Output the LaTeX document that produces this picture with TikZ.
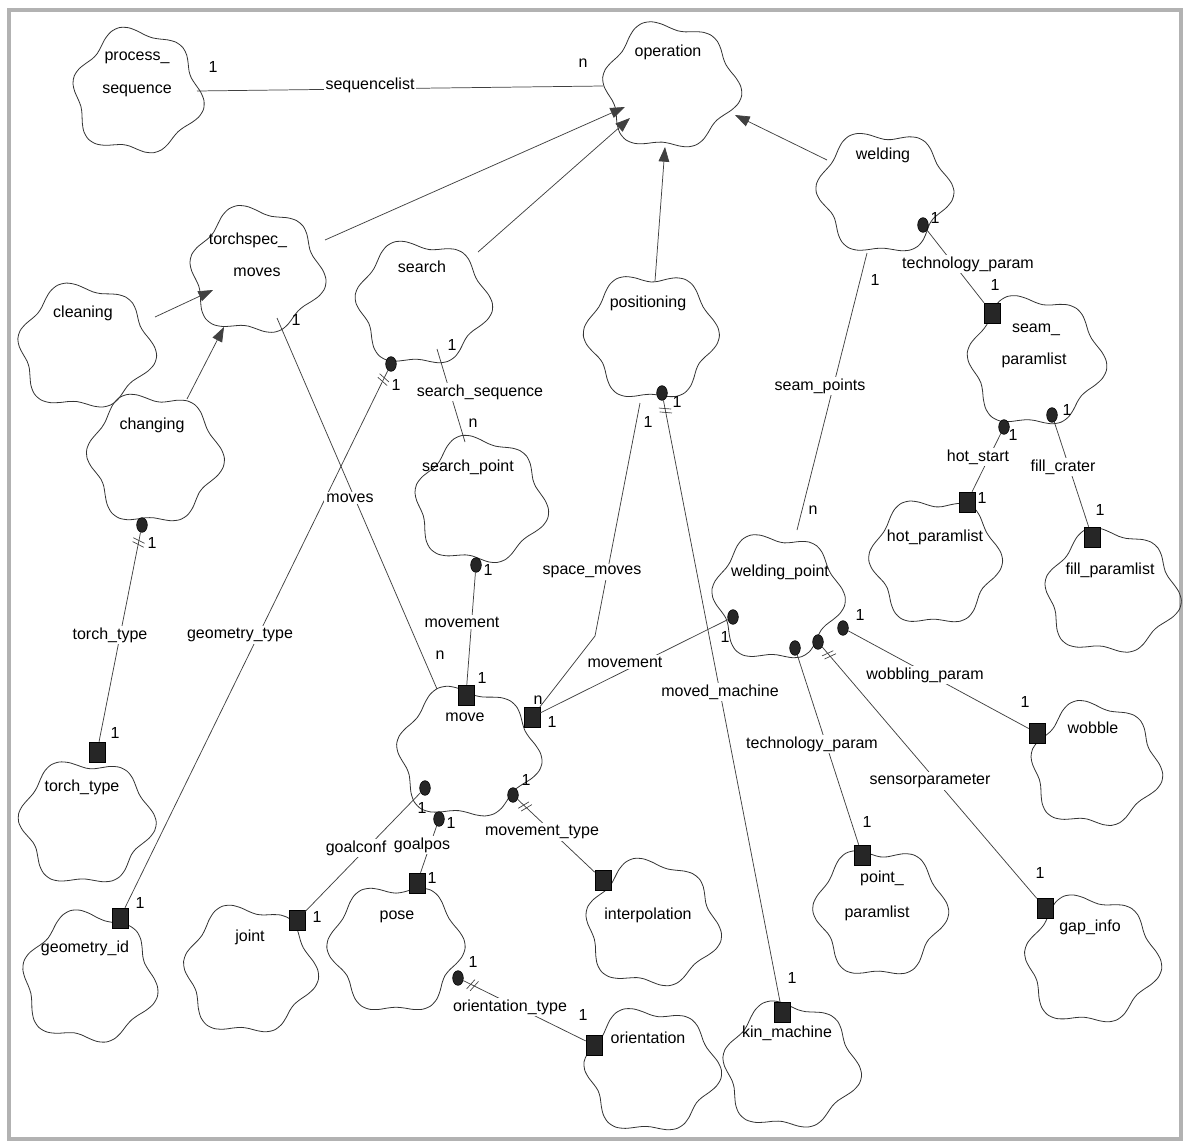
\documentclass[tikz,border=0pt]{standalone}
\usepackage{fontspec}
\setmainfont{Liberation Sans}
\usetikzlibrary{arrows.meta,calc,decorations.markings,shapes.geometric}

\newcommand\blobcloud[5]{%
  \draw[cloudline] plot[smooth cycle, samples=48, domain=0:352.5]
   ({#1+#3*(1+0.08*sin(6*\x+#5)+0.035*sin(3*\x+2*#5))*cos(\x)},
    {#2+#4*(1+0.08*sin(6*\x+#5)+0.035*sin(3*\x+2*#5))*sin(\x)});}

\begin{document}
\begin{tikzpicture}[x=0.75pt,y=-0.75pt,
  font=\fontsize{12}{14}\selectfont,
  cloudline/.style={draw=black!80, line width=0.6pt},
  conn/.style={draw=black!75, line width=0.55pt},
  inh/.style={conn, -{Triangle[length=11pt,width=8pt]}},
  sq/.style={rectangle, fill=black!85, draw=black, minimum width=12pt, minimum height=15pt, inner sep=0pt},
  dt/.style={ellipse, fill=black!85, draw=black, minimum width=8pt, minimum height=11pt, inner sep=0pt},
  lbl/.style={fill=white, inner sep=1.5pt},
  card/.style={inner sep=0pt},
  txt/.style={inner sep=0pt},
  dbar/.style={postaction={decorate, decoration={markings,
     mark=at position 6pt with {\draw[black!75, line width=0.5pt] (-1pt,-4.5pt) -- (1.5pt,4.5pt) (2pt,-4.5pt) -- (4.5pt,4.5pt);}}}}
]
\useasboundingbox (0,0) rectangle (1188,1142);
\fill[white] (0,0) rectangle (1188,1142);
\draw[gray!60, line width=3pt] (9,10) rectangle (1181,1139);

% ---------- clouds ----------
\blobcloud{137}{92}{62}{60}{10}
\blobcloud{670}{86}{65}{61}{40}
\blobcloud{884}{192}{64}{59}{75}
\blobcloud{256}{271}{64}{61}{20}
\blobcloud{422}{303}{64}{60}{55}
\blobcloud{651}{336}{63}{61}{85}
\blobcloud{85}{347}{65}{60}{30}
\blobcloud{154}{458}{64}{63}{65}
\blobcloud{480}{501}{63}{61}{15}
\blobcloud{1035}{361}{65}{63}{50}
\blobcloud{935}{561}{62}{61}{80}
\blobcloud{1111}{592}{64}{60}{25}
\blobcloud{777}{597}{62}{61}{60}
\blobcloud{467}{753}{68}{63}{35}
\blobcloud{86}{822}{64}{60}{70}
\blobcloud{89}{978}{64}{63}{5}
\blobcloud{249}{970}{63}{62}{45}
\blobcloud{396}{948}{64}{62}{90}
\blobcloud{652}{924}{64}{61}{12}
\blobcloud{651}{1070}{64}{60}{58}
\blobcloud{790}{1066}{65}{61}{28}
\blobcloud{880}{912}{63}{62}{78}
\blobcloud{1091}{960}{64}{62}{42}
\blobcloud{1095}{765}{62}{60}{18}

% ---------- cloud names ----------
\node[txt] (t-ps1) at (137,58) {process\_};
\node[txt] (t-ps2) at (137,91) {sequence};
\node[txt] (t-op) at (668,52) {operation};
\node[txt] (t-wd) at (883,155) {welding};
\node[txt] (t-tsm1) at (248,240) {torchspec\_};
\node[txt] (t-tsm2) at (257,272) {moves};
\node[txt] (t-se) at (422,267) {search};
\node[txt] (t-pos) at (648,303) {positioning};
\node[txt] (t-cl) at (83,313) {cleaning};
\node[txt] (t-ch) at (152,425) {changing};
\node[txt] (t-spt) at (468,467) {search\_point};
\node[txt] (t-spl1) at (1036,330) {seam\_};
\node[txt] (t-spl2) at (1034,360) {paramlist};
\node[txt] (t-hpl) at (935,537) {hot\_paramlist};
\node[txt] (t-fpl) at (1110,570) {fill\_paramlist};
\node[txt] (t-wp) at (780,572) {welding\_point};
\node[txt] (t-mv) at (465,717) {move};
\node[txt] (t-tt) at (82,787) {torch\_type};
\node[txt] (t-gi) at (85,948) {geometry\_id};
\node[txt] (t-jt) at (250,937) {joint};
\node[txt] (t-po) at (397,917) {pose};
\node[txt] (t-ip) at (648,915) {interpolation};
\node[txt] (t-or) at (648,1038) {orientation};
\node[txt] (t-km) at (787,1033) {kin\_machine};
\node[txt] (t-ppl1) at (882,878) {point\_};
\node[txt] (t-ppl2) at (877,913) {paramlist};
\node[txt] (t-gap) at (1090,927) {gap\_info};
\node[txt] (t-wb) at (1093,728) {wobble};

% ---------- adornments: squares ----------
\node[sq] (s-tt) at (97,752) {};
\node[sq] (s-gi) at (120,918) {};
\node[sq] (s-jt) at (297,920) {};
\node[sq] (s-po) at (417,883) {};
\node[sq] (s-ip) at (603,880) {};
\node[sq] (s-or) at (594,1045) {};
\node[sq] (s-km) at (782,1012) {};
\node[sq] (s-pp) at (862,855) {};
\node[sq] (s-gp) at (1045,908) {};
\node[sq] (s-wb) at (1037,733) {};
\node[sq] (s-hp) at (967,502) {};
\node[sq] (s-fp) at (1092,537) {};
\node[sq] (s-sp) at (992,313) {};
\node[sq] (s-mv1) at (466,695) {};
\node[sq] (s-mv2) at (532,717) {};

% ---------- adornments: dots ----------
\node[dt] (d-ch) at (142,525) {};
\node[dt] (d-se) at (391,364) {};
\node[dt] (d-spt) at (476,565) {};
\node[dt] (d-pos) at (662,393) {};
\node[dt] (d-wd) at (923,225) {};
\node[dt] (d-hs) at (1004,427) {};
\node[dt] (d-fc) at (1052,415) {};
\node[dt] (d-wp1) at (733,617) {};
\node[dt] (d-wp2) at (795,648) {};
\node[dt] (d-wp3) at (818,642) {};
\node[dt] (d-wp4) at (843,628) {};
\node[dt] (d-gc) at (425,788) {};
\node[dt] (d-gp) at (439,819) {};
\node[dt] (d-mt) at (513,795) {};
\node[dt] (d-pz) at (458,978) {};

% ---------- attachment points on cloud outlines ----------
\coordinate (c-ps) at (197,91);
\coordinate (c-op1) at (603,86);
\coordinate (c-tsm-a) at (325,240);
\coordinate (c-op2) at (625,107);
\coordinate (c-se-a) at (478,252);
\coordinate (c-op3) at (630,118);
\coordinate (c-pos-a) at (655,281);
\coordinate (c-op4) at (665,147);
\coordinate (c-wd-a) at (827,160);
\coordinate (c-op5) at (735,115);
\coordinate (c-cl) at (155,317);
\coordinate (c-tsm-b) at (213,290);
\coordinate (c-ch) at (187,399);
\coordinate (c-tsm-c) at (224,327);
\coordinate (c-tsm-d) at (277,318);
\coordinate (c-mv-a) at (437,689);
\coordinate (c-se-b) at (437,349);
\coordinate (c-spt-a) at (465,442);
\coordinate (c-pos-b) at (640,403);
\coordinate (c-bend) at (595,636);
\coordinate (c-wd-b) at (867,253);
\coordinate (c-wp-a) at (797,530);

% ---------- connectors ----------
\draw[conn] (c-ps) -- (c-op1);
\draw[inh] (c-tsm-a) -- (c-op2);
\draw[inh] (c-se-a) -- (c-op3);
\draw[inh] (c-pos-a) -- (c-op4);
\draw[inh] (c-wd-a) -- (c-op5);
\draw[inh] (c-cl) -- (c-tsm-b);
\draw[inh] (c-ch) -- (c-tsm-c);

\draw[conn] (c-tsm-d) -- (c-mv-a);
\draw[conn,dbar] (d-se) -- (s-gi);
\draw[conn] (c-se-b) -- (c-spt-a);
\draw[conn] (d-spt) -- (s-mv1);
\draw[conn,dbar] (d-pos) -- (s-km);
\draw[conn] (c-pos-b) -- (c-bend) -- (s-mv2);
\draw[conn] (s-mv2) -- (d-wp1);
\draw[conn] (c-wd-b) -- (c-wp-a);
\draw[conn] (d-wd) -- (s-sp);
\draw[conn] (d-hs) -- (s-hp);
\draw[conn] (d-fc) -- (s-fp);
\draw[conn] (d-wp4) -- (s-wb);
\draw[conn] (d-wp2) -- (s-pp);
\draw[conn,dbar] (d-wp3) -- (s-gp);
\draw[conn,dbar] (d-ch) -- (s-tt);
\draw[conn] (d-gc) -- (s-jt);
\draw[conn] (d-gp) -- (s-po);
\draw[conn,dbar] (d-mt) -- (s-ip);
\draw[conn,dbar] (d-pz) -- (s-or);

% ---------- connector labels ----------
\node[lbl] (l-seql) at (370,85) {sequencelist};
\node[lbl] (l-moves) at (350,498) {moves};
\node[lbl] (l-geo) at (240,635) {geometry\_type};
\node[lbl] (l-sseq) at (480,392) {search\_sequence};
\node[lbl] (l-mvt1) at (462,622) {movement};
\node[lbl] (l-mm) at (720,692) {moved\_machine};
\node[lbl] (l-spm) at (592,572) {space\_moves};
\node[lbl] (l-mvt2) at (625,662) {movement};
\node[lbl] (l-seam) at (820,386) {seam\_points};
\node[lbl] (l-tp1) at (968,264) {technology\_param};
\node[lbl] (l-hs) at (978,457) {hot\_start};
\node[lbl] (l-fc) at (1063,467) {fill\_crater};
\node[lbl] (l-wob) at (925,675) {wobbling\_param};
\node[lbl] (l-tp2) at (812,744) {technology\_param};
\node[lbl] (l-sens) at (930,781) {sensorparameter};
\node[lbl] (l-tt) at (110,635) {torch\_type};
\node[lbl] (l-gc) at (356,848) {goalconf};
\node[lbl] (l-gp) at (422,845) {goalpos};
\node[lbl] (l-mt) at (542,832) {movement\_type};
\node[lbl] (l-ot) at (510,1007) {orientation\_type};

% ---------- cardinalities ----------
\node[card] (k1) at (213,67) {1};
\node[card] (k2) at (583,63) {n};
\node[card] (k3) at (296,320) {1};
\node[card] (k4) at (440,655) {n};
\node[card] (k5) at (452,345) {1};
\node[card] (k6) at (473,423) {n};
\node[card] (k7) at (396,385) {1};
\node[card] (k8) at (488,570) {1};
\node[card] (k9) at (482,678) {1};
\node[card] (k10) at (538,700) {n};
\node[card] (k11) at (552,722) {1};
\node[card] (k12) at (677,402) {1};
\node[card] (k13) at (648,422) {1};
\node[card] (k14) at (725,637) {1};
\node[card] (k15) at (140,903) {1};
\node[card] (k16) at (152,543) {1};
\node[card] (k17) at (115,733) {1};
\node[card] (k18) at (317,917) {1};
\node[card] (k19) at (422,808) {1};
\node[card] (k20) at (451,823) {1};
\node[card] (k21) at (526,780) {1};
\node[card] (k22) at (432,878) {1};
\node[card] (k23) at (473,962) {1};
\node[card] (k24) at (583,1015) {1};
\node[card] (k25) at (792,978) {1};
\node[card] (k26) at (867,822) {1};
\node[card] (k27) at (1040,873) {1};
\node[card] (k28) at (1025,702) {1};
\node[card] (k29) at (860,615) {1};
\node[card] (k30) at (935,218) {1};
\node[card] (k31) at (875,280) {1};
\node[card] (k32) at (995,285) {1};
\node[card] (k33) at (1013,435) {1};
\node[card] (k34) at (1067,410) {1};
\node[card] (k35) at (982,498) {1};
\node[card] (k36) at (1100,510) {1};
\node[card] (k37) at (813,510) {n};
\end{tikzpicture}
\end{document}
